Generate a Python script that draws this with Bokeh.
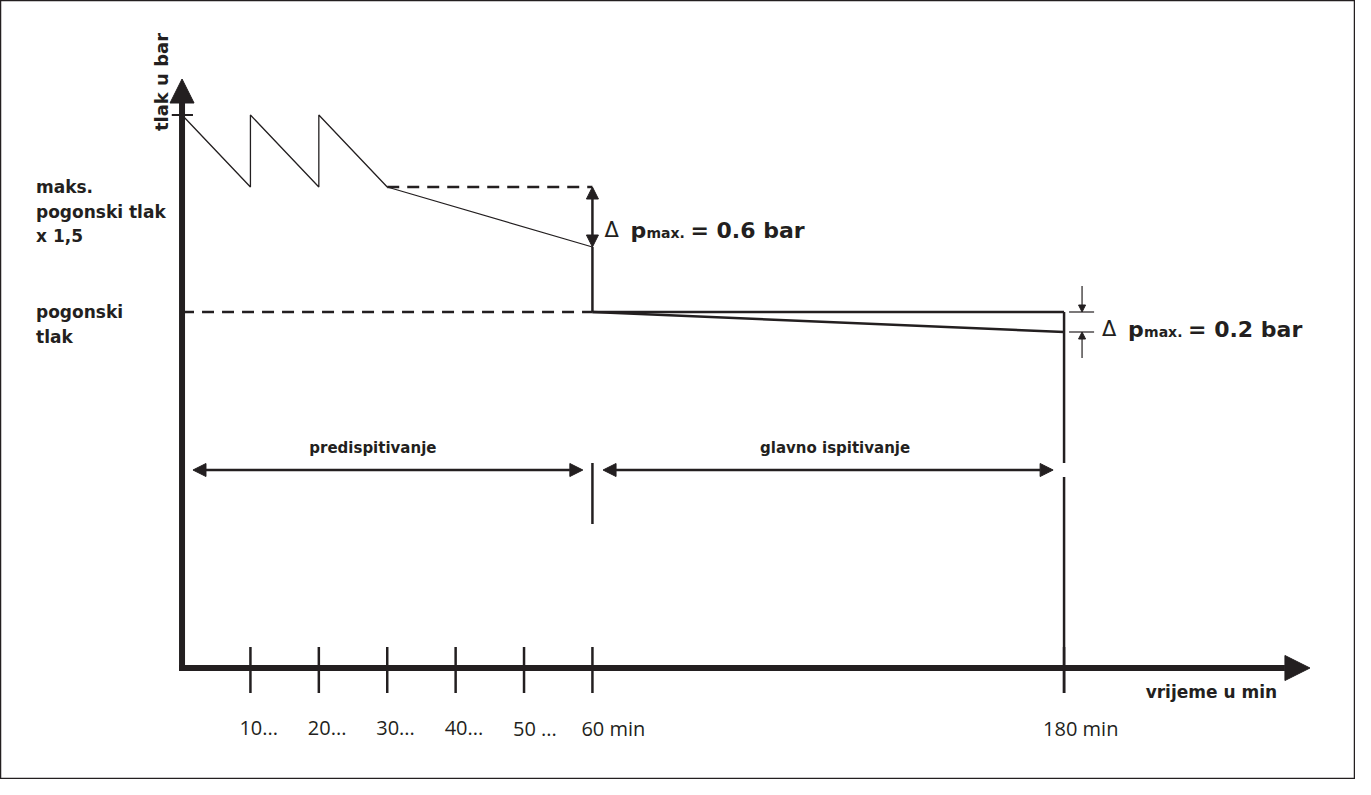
import numpy as np
from bokeh.plotting import figure
from bokeh.models import Range1d, Arrow, NormalHead
from bokeh.core.properties import value
from bokeh.embed import file_html
from bokeh.resources import INLINE

# ---------------- data ----------------
tick_minutes = [10, 20, 30, 40, 50, 60, 180]
tick_labels = ["10...", "20...", "30...", "40...", "50 ...", "60 min", "180 min"]

# pre-test: sawtooth re-pressurising, then free drop to 60 min
pre_t = [0, 10, 10, 20, 20, 30, 60]
pre_p = [5.53, 4.81, 5.53, 4.81, 5.53, 4.81, 4.21]

p_test = 5.53      # test pressure (top tick)
p_max = 4.81       # max. operating pressure x 1,5
p_op = 3.56        # operating pressure
drop_pre = 0.6     # allowed drop in pre-test
drop_main = 0.2    # allowed drop in main test
t_pre_end = 60
t_main_end = 180

INK = "#231f20"


def tx(t):
    """schematic time axis: linear to 60 min, compressed afterwards"""
    t = np.asarray(t, dtype=float)
    return np.where(t <= 60, t, 60 + (t - 60) * 0.5746)


X60 = float(tx(t_pre_end))
X180 = float(tx(t_main_end))

p = figure(width=1355, height=779,
           x_range=Range1d(-26.54, 171.56), y_range=Range1d(-1.115, 6.675),
           x_axis_type=None, y_axis_type=None,
           output_backend="svg", toolbar_location=None, min_border=0)
p.grid.visible = False
p.outline_line_color = INK
p.outline_line_width = 1.5
p.background_fill_color = "white"
p.border_fill_color = "white"

# ---- axes with arrow heads ----
p.add_layout(Arrow(end=NormalHead(size=24, fill_color=INK, line_color=INK, line_width=1),
                   x_start=0, y_start=-0.03, x_end=0, y_end=5.89,
                   line_color=INK, line_width=6))
p.add_layout(Arrow(end=NormalHead(size=25, fill_color=INK, line_color=INK, line_width=1),
                   x_start=-0.44, y_start=0, x_end=164.9, y_end=0,
                   line_color=INK, line_width=6))
# top tick on pressure axis
p.segment(x0=[-1.5], y0=[p_test], x1=[1.6], y1=[p_test], line_color=INK, line_width=2)

# ---- x ticks ----
tx_ticks = tx(tick_minutes)
p.segment(x0=tx_ticks, y0=[0.21] * len(tx_ticks), x1=tx_ticks, y1=[-0.25] * len(tx_ticks),
          line_color=INK, line_width=2.5)
p.text(x=tx_ticks, y=[0] * len(tx_ticks), text=tick_labels,
       x_offset=[-11] * 6 + [-21], y_offset=60,
       text_font=value("Open Sans"), text_font_size="20px", text_color=INK,
       text_align="left", text_baseline="alphabetic")

# ---- pressure curve ----
p.line(tx(pre_t), pre_p, line_color=INK, line_width=1.3)
p.segment(x0=[X60], y0=[pre_p[-1]], x1=[X60], y1=[p_op], line_color=INK, line_width=2.5)
p.line([X60, X180], [p_op, p_op], line_color=INK, line_width=2.5)
p.line([X60, X180], [p_op, p_op - drop_main], line_color=INK, line_width=2.5)

# dashed reference levels
p.line([0, X60], [p_op, p_op], line_color=INK, line_width=2.5, line_dash="12 8")
p.line([float(tx(30)), X60], [p_max, p_max], line_color=INK, line_width=2.5, line_dash="12 8")

# ---- phase separators and arrows ----
y_phase = 1.98
p.segment(x0=[X60], y0=[2.05], x1=[X60], y1=[1.44], line_color=INK, line_width=2.5)
p.segment(x0=[X180, X180], y0=[p_op, 1.91], x1=[X180, X180], y1=[2.05, -0.25],
          line_color=INK, line_width=2.5)

for xs, xe in [(1.6, X60 - 1.4), (X60 + 1.55, X180 - 1.6)]:
    p.add_layout(Arrow(start=NormalHead(size=13, fill_color=INK, line_color=INK, line_width=1),
                       end=NormalHead(size=13, fill_color=INK, line_color=INK, line_width=1),
                       x_start=xs, y_start=y_phase, x_end=xe, y_end=y_phase,
                       line_color=INK, line_width=2.5))

phase_x = [27.9, (X60 + X180) / 2 + 1.0]
phase_txt = ["predispitivanje", "glavno ispitivanje"]
p.text(x=phase_x, y=[y_phase] * 2, text=phase_txt, y_offset=-22,
       text_font=value("DejaVu Sans"), text_font_style="bold", text_font_size="15px",
       text_color=INK, text_align="center", text_baseline="alphabetic")

# ---- delta annotations ----
# pre-test double arrow
p.add_layout(Arrow(start=NormalHead(size=12, fill_color=INK, line_color=INK, line_width=1),
                   end=NormalHead(size=12, fill_color=INK, line_color=INK, line_width=1),
                   x_start=X60, y_start=p_max, x_end=X60, y_end=p_max - drop_pre,
                   line_color=INK, line_width=2.5))

# main test dimension marks
for yy in [p_op, p_op - drop_main]:
    p.segment(x0=[X180 + 0.73], y0=[yy], x1=[X180 + 4.39], y1=[yy], line_color=INK, line_width=1.2)
xd = X180 + 2.63
p.add_layout(Arrow(end=NormalHead(size=7, fill_color=INK, line_color=INK, line_width=1),
                   x_start=xd, y_start=p_op + 0.26, x_end=xd, y_end=p_op,
                   line_color=INK, line_width=1.2))
p.add_layout(Arrow(end=NormalHead(size=7, fill_color=INK, line_color=INK, line_width=1),
                   x_start=xd, y_start=p_op - drop_main - 0.26, x_end=xd, y_end=p_op - drop_main,
                   line_color=INK, line_width=1.2))


def delta_label(x, y, val, dy):
    p.text(x=[x], y=[y], text=["\u0394"], x_offset=dy[0], y_offset=dy[1],
           text_font=value("DejaVu Sans"), text_font_size="21px", text_color=INK,
           text_align="left", text_baseline="alphabetic")
    p.text(x=[x], y=[y], text=["p"], x_offset=dy[0] + 26, y_offset=dy[1],
           text_font=value("DejaVu Sans"), text_font_style="bold", text_font_size="22px",
           text_color=INK, text_align="left", text_baseline="alphabetic")
    p.text(x=[x], y=[y], text=["max."], x_offset=dy[0] + 42, y_offset=dy[1] + 3,
           text_font=value("DejaVu Sans"), text_font_style="bold", text_font_size="14px",
           text_color=INK, text_align="left", text_baseline="alphabetic")
    p.text(x=[x], y=[y], text=[f"= {val} bar"], x_offset=dy[0] + 86, y_offset=dy[1],
           text_font=value("DejaVu Sans"), text_font_style="bold", text_font_size="22px",
           text_color=INK, text_align="left", text_baseline="alphabetic")


delta_label(X60, p_max - drop_pre / 2, drop_pre, (12, 13))
delta_label(X180, p_op - drop_main / 2, drop_main, (38, 7))

# ---- axis titles and level labels ----
p.text(x=[-3.05], y=[5.86], text=["tlak u bar"], angle=np.pi / 2,
       text_font=value("DejaVu Sans"), text_font_style="bold", text_font_size="18px",
       text_color=INK, text_align="center", text_baseline="alphabetic")
p.text(x=[160.1], y=[0], text=["vrijeme u min"], y_offset=24,
       text_font=value("DejaVu Sans"), text_font_style="bold", text_font_size="17px",
       text_color=INK, text_align="right", text_baseline="alphabetic")

lvl_y = [p_max, p_max, p_max, p_op, p_op]
lvl_off = [0, 24.5, 49, 0, 24.5]
lvl_txt = ["maks.", "pogonski tlak", "x 1,5", "pogonski", "tlak"]
p.text(x=[-21.35] * 5, y=lvl_y, text=lvl_txt, y_offset=lvl_off,
       text_font=value("DejaVu Sans"), text_font_style="bold", text_font_size="17px",
       text_color=INK, text_align="left", text_baseline="alphabetic")

open("out.html", "w").write(file_html(p, INLINE))
